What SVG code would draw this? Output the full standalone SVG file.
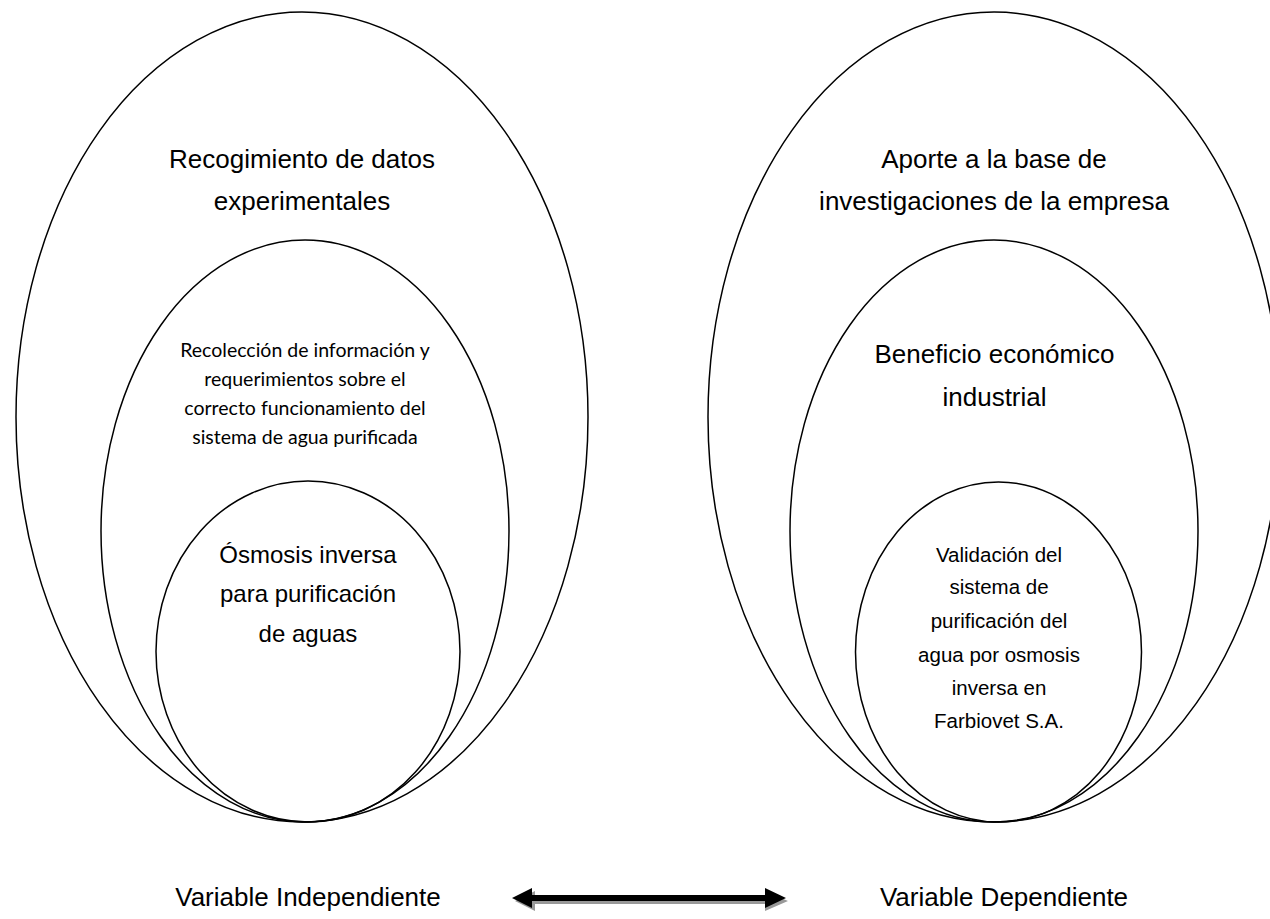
<svg xmlns="http://www.w3.org/2000/svg" width="1270" height="919" viewBox="0 0 1270 919">
<style>
.e{fill:none;stroke:#000;stroke-width:1.5}
.big{font-family:"Liberation Sans",Arial,sans-serif;font-size:26px;fill:#000;text-anchor:middle}
.in{font-family:"Liberation Sans",Arial,sans-serif;font-size:24px;fill:#000;text-anchor:middle}
.mid{font-family:"Liberation Sans",Arial,sans-serif;font-size:20.5px;fill:#000;text-anchor:middle}
.sm{font-family:Lato,"Open Sans",sans-serif;font-size:19.5px;fill:#000;text-anchor:middle}
</style>
<rect width="1270" height="919" fill="#fff"/>
<g id="left-outer">
<ellipse class="e" cx="302" cy="417" rx="286" ry="405"/>
<text class="big" x="302" y="168">Recogimiento de datos</text>
<text class="big" x="302" y="210">experimentales</text>
</g>
<g id="left-middle">
<ellipse class="e" cx="305" cy="531" rx="204" ry="291"/>
<text class="sm" x="305" y="357">Recolección de información y</text>
<text class="sm" x="305" y="386">requerimientos sobre el</text>
<text class="sm" x="305" y="415">correcto funcionamiento del</text>
<text class="sm" x="305" y="444">sistema de agua purificada</text>
</g>
<g id="left-inner">
<ellipse class="e" cx="308" cy="651.5" rx="152" ry="170.5"/>
<text class="in" x="308" y="563">Ósmosis inversa</text>
<text class="in" x="308" y="602">para purificación</text>
<text class="in" x="308" y="642">de aguas</text>
</g>
<g id="right-outer">
<ellipse class="e" cx="994" cy="417" rx="286" ry="405"/>
<text class="big" x="994" y="168">Aporte a la base de</text>
<text class="big" x="994" y="210">investigaciones de la empresa</text>
</g>
<g id="right-middle">
<ellipse class="e" cx="994" cy="531" rx="204" ry="291"/>
<text class="big" x="994.5" y="363">Beneficio económico</text>
<text class="big" x="994.5" y="406">industrial</text>
</g>
<g id="right-inner">
<ellipse class="e" cx="998.5" cy="652" rx="143" ry="170"/>
<text class="mid" x="999" y="562">Validación del</text>
<text class="mid" x="999" y="594">sistema de</text>
<text class="mid" x="999" y="628">purificación del</text>
<text class="mid" x="999" y="662">agua por osmosis</text>
<text class="mid" x="999" y="695">inversa en</text>
<text class="mid" x="999" y="728">Farbiovet S.A.</text>
</g>
<g id="label-independiente">
<text class="big" x="308" y="906">Variable Independiente</text>
</g>
<g id="label-dependiente">
<text class="big" x="1004" y="906">Variable Dependiente</text>
</g>
<g id="connectors">
<path d="M515 901 L535 891 L535 898 L765 898 L765 891 L788 901 L765 911 L765 904 L535 904 L535 911 Z" fill="#999"/>
<path d="M512 898 L532 888 L532 895 L765 895 L765 888 L786 898 L765 908 L765 901 L532 901 L532 908 Z" fill="#000"/>
</g>
</svg>
